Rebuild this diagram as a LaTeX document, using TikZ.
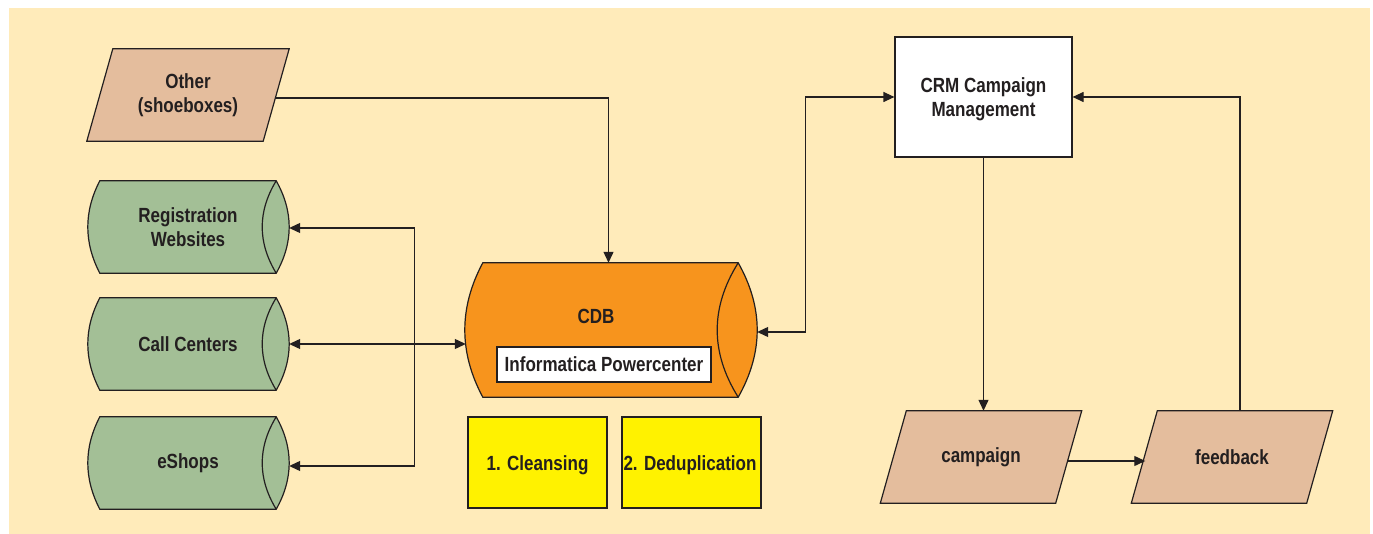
\documentclass[tikz,border=0pt]{standalone}
\usepackage{fontspec}
\setmainfont{Liberation Sans}[FakeStretch=0.83]
\usetikzlibrary{arrows.meta,calc}
\definecolor{bgbeige}{HTML}{FFEBBA}
\definecolor{tan}{HTML}{E4BD9D}
\definecolor{sage}{HTML}{A3BF96}
\definecolor{cdborange}{HTML}{F7941D}
\definecolor{lemon}{HTML}{FFF200}
\definecolor{ink}{HTML}{231F20}
\pgfdeclarelayer{back}
\pgfdeclarelayer{shapes}
\pgfsetlayers{back,shapes,main}
\tikzset{
  txt/.style={font=\fontsize{20.5}{24}\selectfont\bfseries, text=ink, align=center, inner sep=0pt},
  shapeline/.style={draw=ink, line width=1.2pt, line join=miter},
  box/.style={txt, shapeline, minimum width=#1},
  conn/.style={draw=ink, line width=1.2pt, -{Triangle[length=11pt,width=10pt]}},
  bconn/.style={draw=ink, line width=1.2pt, {Triangle[length=11pt,width=10pt]}-{Triangle[length=11pt,width=10pt]}},
}
\newcommand\drumshape[5]{%
  \draw[shapeline,fill=#5] (#1.north west) -- (#1.north east)
    .. controls ($(#1.north east)!1/3!(#1.south east)+({4/3*#3},0)$)
       and ($(#1.north east)!2/3!(#1.south east)+({4/3*#3},0)$) .. (#1.south east)
    -- (#1.south west)
    .. controls ($(#1.south west)!1/3!(#1.north west)+({-4/3*#2},0)$)
       and ($(#1.south west)!2/3!(#1.north west)+({-4/3*#2},0)$) .. (#1.north west) -- cycle;
  \draw[shapeline] (#1.north east)
    .. controls ($(#1.north east)!1/3!(#1.south east)+({-4/3*#4},0)$)
       and ($(#1.north east)!2/3!(#1.south east)+({-4/3*#4},0)$) .. (#1.south east);}
\newcommand\slantshape[3]{%
  \draw[shapeline,fill=#3] ([xshift=#2]#1.north west) -- ([xshift=#2]#1.north east)
    -- ([xshift=-#2]#1.south east) -- ([xshift=-#2]#1.south west) -- cycle;}
\begin{document}
\begin{tikzpicture}[x=1pt,y=-1pt]
\useasboundingbox (0,0) rectangle (1373,534);
\begin{pgfonlayer}{back}
  \fill[white] (0,0) rectangle (1373,534);
  \fill[bgbeige] (9,8) rectangle (1370,534);
\end{pgfonlayer}

% left sources
\node[txt, minimum width=176pt, minimum height=92pt] (other) at (188,95) {Other\\(shoeboxes)};
\node[txt, minimum width=176pt, minimum height=92pt] (reg) at (188,227) {Registration\\Websites};
\node[txt, minimum width=176pt, minimum height=92pt] (cc) at (188,344) {Call Centers};
\node[txt, minimum width=176pt, minimum height=92pt] (esh) at (188,463) {eShops};

% CDB
\node[minimum width=255pt, minimum height=134pt, inner sep=0pt] (cdb) at (610.5,330) {};
\node[txt] (cdbl) at (596,316) {CDB};
\node[box=214pt, fill=white, minimum height=35pt] (inf) at (604,364.5) {Informatica Powercenter};
\node[box=139pt, fill=lemon, minimum height=91pt] (cl) at (537.5,462.5) {};
\node[txt] (cll) at (537.5,465) {1. Cleansing};
\node[box=139pt, fill=lemon, minimum height=91pt] (dd) at (691.5,462.5) {};
\node[txt] (ddl) at (690,465) {2. Deduplication};

% right
\node[box=177pt, fill=white, minimum height=120pt] (crm) at (983.5,97) {};
\node[txt] (crml) at (983.5,99) {CRM Campaign\\Management};
\node[txt, minimum width=175pt, minimum height=92pt] (camp) at (981,457) {campaign};
\node[txt, minimum width=175pt, minimum height=92pt] (fb) at (1232,457) {feedback};

\begin{pgfonlayer}{shapes}
  \slantshape{other}{13}{tan}
  \drumshape{reg}{12}{13}{14}{sage}
  \drumshape{cc}{12}{13}{14}{sage}
  \drumshape{esh}{12}{13}{14}{sage}
  \drumshape{cdb}{18}{19}{21}{cdborange}
  \slantshape{camp}{13}{tan}
  \slantshape{fb}{13}{tan}
\end{pgfonlayer}

% connectors
\draw[conn] ($(other.east)+(0,3)$) -| ($(cdb.north)+(-2,0)$);
\coordinate (j) at ($(cc.east)+(138,0)$);
\draw[bconn] ($(cc.east)+(13,0)$) -- ($(cdb.west |- cc.east)+(-17,0)$);
\draw[conn] (j) |- ($(reg.east)+(13,1)$);
\draw[conn] (j) |- ($(esh.east)+(13,3)$);
\coordinate (k) at ($(crm.west)+(-89,0)$);
\draw[bconn] ($(cdb.east)+(19,2)$) -| (k) -- (crm.west);
\draw[conn] (crm.south) -- (crm.south |- camp.north);
\draw[conn] ($(camp.east)+(-1,4)$) -- ($(fb.west)+(1,4)$);
\draw[conn] ($(fb.north)+(8,0)$) |- (crm.east);
\end{tikzpicture}
\end{document}
